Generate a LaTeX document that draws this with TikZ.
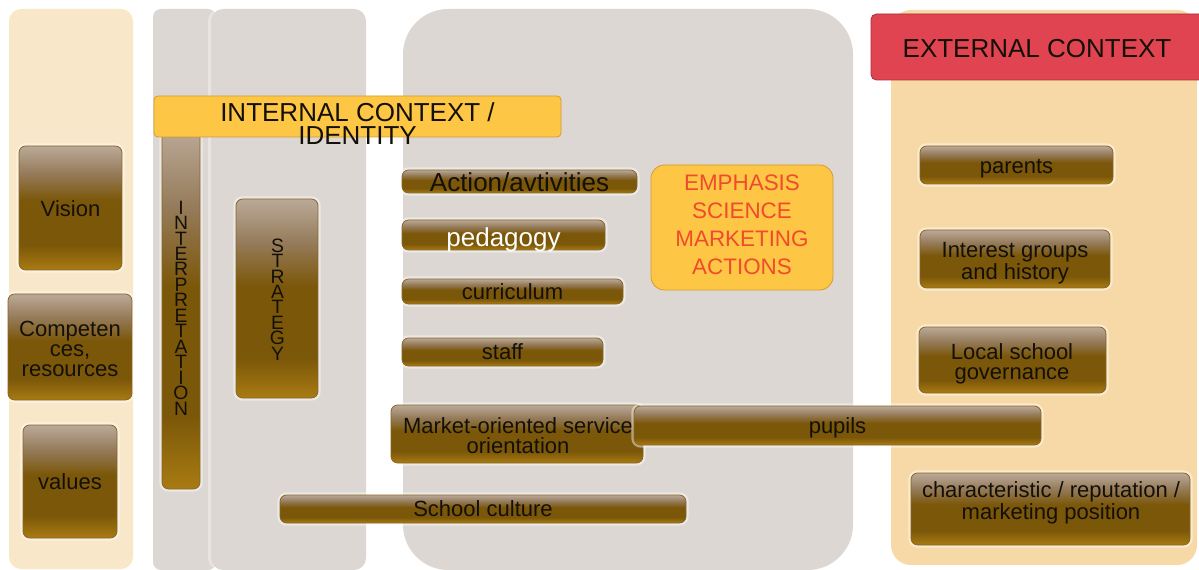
\documentclass[tikz,border=0pt]{standalone}
\usepackage{fontspec}
\setmainfont{Liberation Sans}
\definecolor{beigeL}{HTML}{F8E7C8}
\definecolor{panelgray}{HTML}{DCD7D3}
\definecolor{peach}{HTML}{F6D9A6}
\definecolor{banyellow}{HTML}{FDC644}
\definecolor{banyline}{HTML}{D49C2C}
\definecolor{banred}{HTML}{DF4450}
\definecolor{banrline}{HTML}{A8303A}
\definecolor{emtext}{HTML}{F04B2C}
\definecolor{btnline}{HTML}{8A6422}
\definecolor{bb1}{HTML}{A97B12}
\definecolor{bb3}{HTML}{7B5709}
\definecolor{bb4}{HTML}{957B5A}
\definecolor{bb5}{HTML}{BBA998}
\definecolor{txt}{HTML}{141008}
\pgfdeclareverticalshading{brownbtn}{100bp}{color(0bp)=(bb1); color(25bp)=(bb1); color(35bp)=(bb3); color(53bp)=(bb3); color(64bp)=(bb4); color(75bp)=(bb5); color(100bp)=(bb5)}
\tikzset{
  btn/.style={draw=btnline, line width=0.6pt, rounded corners=5pt, shading=brownbtn,
    inner sep=0pt, preaction={draw=white, draw opacity=0.45, line width=4pt}},
  mlbl/.style={inner sep=0pt, align=center, text=txt, font=\fontsize{16.5}{15}\selectfont},
  lbl/.style={mlbl, text height=11.9pt, text depth=0pt},
  biglbl/.style={lbl, font=\fontsize{19.5}{17.25}\selectfont, text height=14pt},
  vlbl/.style={mlbl, font=\fontsize{14.5}{11.6}\selectfont}
}
% name, x1, y1, x2, y2 (pixel coordinates)
\newcommand\bx[6][]{\node[btn,#1,minimum width={(#5-#3)*0.75pt},minimum height={(#6-#4)*0.75pt}] (#2) at ({(#3+#5)/2},{(#4+#6)/2}) {};}
\begin{document}
\begin{tikzpicture}[x=0.75pt,y=-0.75pt]
\useasboundingbox (0,0) rectangle (1199,570);
% background panels
\fill[beigeL, rounded corners=9pt] (9,9) rectangle (133,569);
\fill[panelgray, rounded corners=6pt] (153,9) rectangle (216,570);
\fill[white, opacity=0.35, rounded corners=9pt] (208,9) rectangle (366,570);
\fill[panelgray, rounded corners=9pt] (211,9) rectangle (366,570);
\fill[panelgray, rounded corners=34pt] (403,9) rectangle (853,570);
\fill[peach, rounded corners=15pt] (891,10) rectangle (1197,565);

% left column
\bx{vision}{19}{146}{122}{270}
\node[lbl] (vision-t) at (70.5,209) {Vision};
\bx{comp}{8}{294}{132}{400}
\node[mlbl] (comp-t) at (70,348.5) {Competen\\ces,\\resources};
\bx{values}{23}{425}{117}{538}
\node[lbl] (values-t) at (values) {values};

% interpretation and strategy
\bx{interp}{162}{128}{200}{489}
\node[vlbl] (interp-t) at (181,308) {I\\N\\T\\E\\R\\P\\R\\E\\T\\A\\T\\I\\O\\N};
\bx{strat}{236}{199}{318}{398}
\node[vlbl] (strat-t) at (277.5,299.5) {S\\T\\R\\A\\T\\E\\G\\Y};

% internal context banner
\node[draw=banyline, fill=banyellow, rounded corners=3pt, line width=0.6pt,
  minimum width={407*0.75pt}, minimum height={41*0.75pt}, inner sep=0pt] (internal) at (357.5,116.5) {};
\node[mlbl, font=\fontsize{19.5}{17.25}\selectfont] (internal-t) at (357.5,124) {INTERNAL CONTEXT /\\IDENTITY};

% middle column
\bx{action}{402}{170}{637}{193}
\node[biglbl] (action-t) at (519.5,182) {Action/avtivities};
\bx{pedagogy}{402}{220}{605}{250}
\node[biglbl, text=white] (pedagogy-t) at (503.5,237) {pedagogy};
\bx{curric}{402}{279}{623}{304}
\node[lbl] (curric-t) at (curric) {curriculum};
\bx{staff}{402}{338}{603}{366}
\node[lbl] (staff-t) at (staff) {staff};
\node[draw=banyline, fill=banyellow, rounded corners=10pt, line width=0.6pt,
  minimum width={182*0.75pt}, minimum height={125*0.75pt}, inner sep=0pt] (emph) at (742,227.5) {};
\node[mlbl, text=emtext, font=\fontsize{16.8}{21}\selectfont] (emph-t) at (742,225) {EMPHASIS\\SCIENCE\\MARKETING\\ACTIONS};
\bx{market}{391}{405}{643}{463}
\node[mlbl] (market-t) at (518,436) {Market-oriented service\\orientation};
\bx{pupils}{634}{406}{1041}{445}
\node[lbl] (pupils-t) at (pupils) {pupils};
\bx{culture}{280}{495}{686}{523}
\node[lbl] (culture-t) at (483,509) {School culture};

% external context
\node[draw=banrline, fill=banred, rounded corners=4pt, line width=0.6pt,
  minimum width={334*0.75pt}, minimum height={66*0.75pt}, inner sep=0pt] (external) at (1038,47) {};
\node[lbl, font=\fontsize{19.5}{20}\selectfont, text height=14pt] (external-t) at (1037,48) {EXTERNAL CONTEXT};
\bx{parents}{920}{146}{1113}{184}
\node[lbl] (parents-t) at (1016.5,166) {parents};
\bx{interest}{920}{230}{1110}{288}
\node[mlbl] (interest-t) at (1015,263) {Interest groups\\and history};
\bx{local}{919}{327}{1106}{393}
\node[mlbl] (local-t) at (1012,364) {Local school\\governance};
\bx{charac}{911}{473}{1190}{545}
\node[mlbl] (charac-t) at (1051,503) {characteristic / reputation /\\marketing position};
\end{tikzpicture}
\end{document}
